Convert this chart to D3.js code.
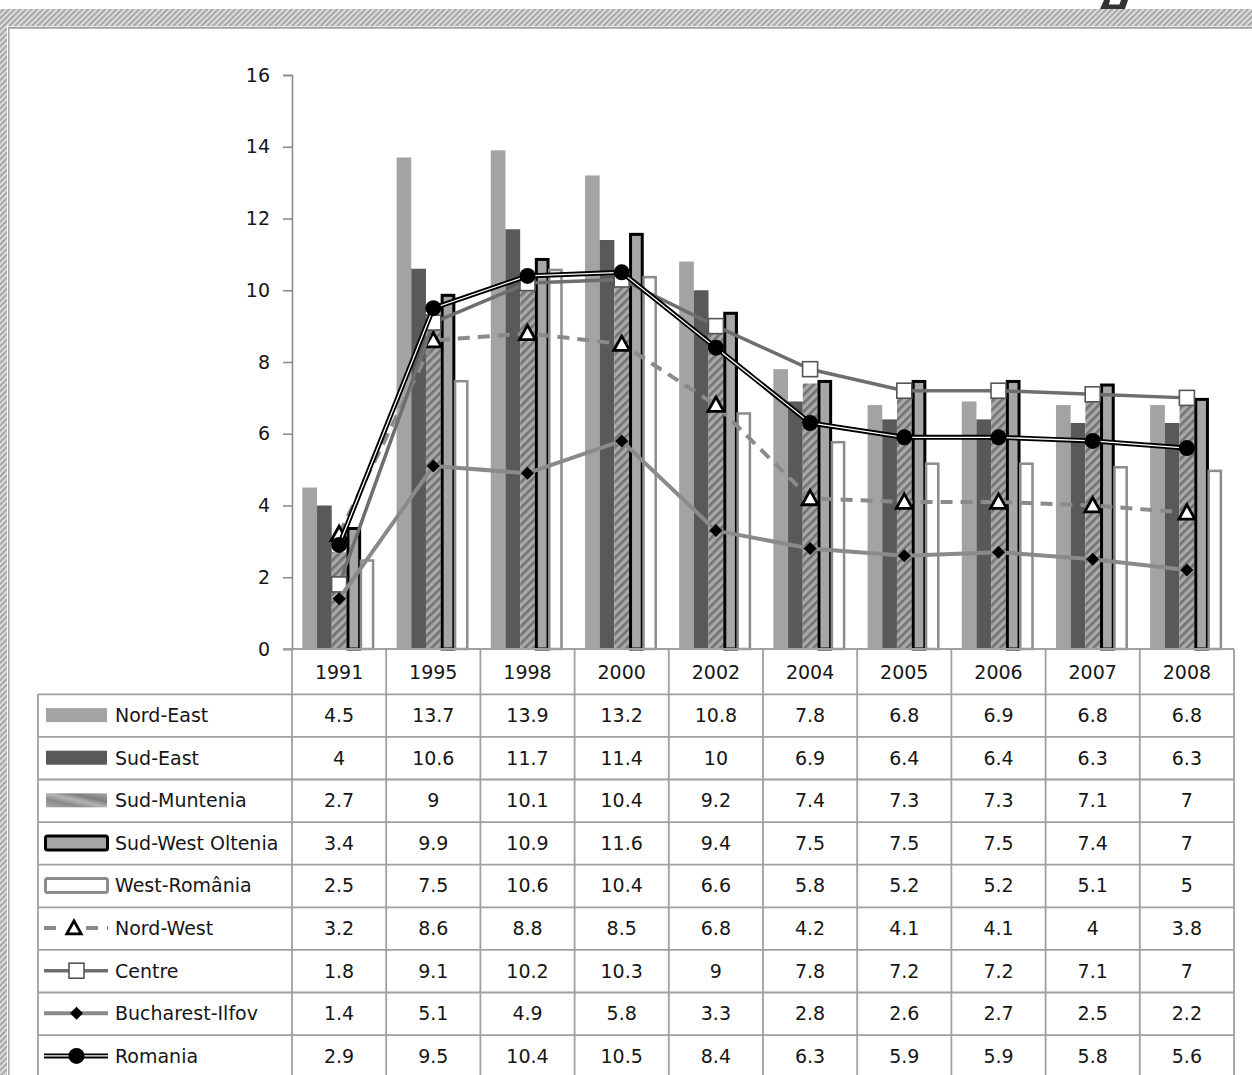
<!DOCTYPE html>
<html><head><meta charset="utf-8">
<script src="https://cdn.jsdelivr.net/npm/d3@7"></script>
<style>
html,body{margin:0;padding:0;background:#fff;}
svg{display:block;}
text{font-family:"DejaVu Sans",sans-serif;fill:#161616;}
</style></head>
<body>
<script>
const years = ["1991","1995","1998","2000","2002","2004","2005","2006","2007","2008"];
const yTicks = [0,2,4,6,8,10,12,14,16];

const nordEast      = [4.5,13.7,13.9,13.2,10.8,7.8,6.8,6.9,6.8,6.8];
const sudEast       = [4,10.6,11.7,11.4,10,6.9,6.4,6.4,6.3,6.3];
const sudMuntenia   = [2.7,9,10.1,10.4,9.2,7.4,7.3,7.3,7.1,7];
const sudWestOltenia= [3.4,9.9,10.9,11.6,9.4,7.5,7.5,7.5,7.4,7];
const westRomania   = [2.5,7.5,10.6,10.4,6.6,5.8,5.2,5.2,5.1,5];
const nordWest      = [3.2,8.6,8.8,8.5,6.8,4.2,4.1,4.1,4,3.8];
const centre        = [1.8,9.1,10.2,10.3,9,7.8,7.2,7.2,7.1,7];
const bucharestIlfov= [1.4,5.1,4.9,5.8,3.3,2.8,2.6,2.7,2.5,2.2];
const romania       = [2.9,9.5,10.4,10.5,8.4,6.3,5.9,5.9,5.8,5.6];

const barNames = ["Nord-East","Sud-East","Sud-Muntenia","Sud-West Oltenia","West-România"];
const barValues = [nordEast,sudEast,sudMuntenia,sudWestOltenia,westRomania];
const lineNames = ["Nord-West","Centre","Bucharest-Ilfov","Romania"];
const lineValues = [nordWest,centre,bucharestIlfov,romania];

const W=1252,H=1075;
const svg=d3.select("body").append("svg").attr("width",W).attr("height",H);
const defs=svg.append("defs");

const fp=defs.append("pattern").attr("id","frameHatch").attr("patternUnits","userSpaceOnUse")
  .attr("width",4).attr("height",4).attr("patternTransform","rotate(45)");
fp.append("rect").attr("width",4).attr("height",4).attr("fill","#dcdcdc");
fp.append("rect").attr("width",1.8).attr("height",4).attr("fill","#a2a2a2");

const bp=defs.append("pattern").attr("id","barHatch").attr("patternUnits","userSpaceOnUse")
  .attr("width",6).attr("height",6).attr("patternTransform","rotate(45)");
bp.append("rect").attr("width",6).attr("height",6).attr("fill","#a9a9a9");
bp.append("rect").attr("width",2.6).attr("height",6).attr("fill","#737373");

const lg=defs.append("linearGradient").attr("id","legHatch").attr("x1","0").attr("x2","1").attr("y1","1").attr("y2","0");
[["0%","#a8a8a8"],["30%","#8a8a8a"],["50%","#b4b4b4"],["70%","#7e7e7e"],["100%","#a8a8a8"]].forEach(s=>lg.append("stop").attr("offset",s[0]).attr("stop-color",s[1]));

svg.append("rect").attr("x",0).attr("y",9).attr("width",W).attr("height",17).attr("fill","url(#frameHatch)");
svg.append("rect").attr("x",0).attr("y",9).attr("width",7).attr("height",H-9).attr("fill","url(#frameHatch)");
svg.append("line").attr("x1",8.5).attr("x2",W).attr("y1",27.8).attr("y2",27.8).attr("stroke","#a0a0a0").attr("stroke-width",2);
svg.append("line").attr("x1",8.8).attr("x2",8.8).attr("y1",27).attr("y2",H).attr("stroke","#a8a8a8").attr("stroke-width",1.6);
svg.append("path").attr("d","M1104,0 L1128,0 L1125,9 L1100,9 Z M1110,0 L1121,0 L1119.5,4.5 L1109,4.5 Z")
  .attr("fill","#333").attr("fill-rule","evenodd");

const x=d3.scaleBand().domain(years).range([292,1234]).padding(0);
const bw=x.bandwidth();
const xb=d3.scaleBand().domain(barNames).range([bw*0.11,bw*0.89]).padding(0);
const y=d3.scaleLinear().domain([0,16]).range([649,75]);

const yAxis=svg.append("g").attr("transform","translate(292,0)")
  .call(d3.axisLeft(y).tickValues(yTicks).tickSize(9).tickPadding(13).tickFormat(d3.format("d")));
yAxis.select(".domain").attr("stroke","#8c8c8c").attr("stroke-width",1.6);
yAxis.selectAll(".tick line").attr("stroke","#8c8c8c").attr("stroke-width",1.6);
yAxis.selectAll(".tick text").attr("font-size",19).attr("fill","#161616").attr("font-family","DejaVu Sans");

const barStyles=[
  {fill:"#a3a3a3",stroke:"none",sw:0},
  {fill:"#595959",stroke:"none",sw:0},
  {fill:"url(#barHatch)",stroke:"none",sw:0},
  {fill:"#a6a6a6",stroke:"#000",sw:3},
  {fill:"#ffffff",stroke:"#8c8c8c",sw:2.5}
];
barValues.forEach((vals,si)=>{
  const st=barStyles[si];
  const shift = si===4 ? -1.5 : 0;
  svg.append("g").selectAll("rect").data(vals).join("rect")
    .attr("x",(d,i)=>x(years[i])+xb(barNames[si])+st.sw/2+shift)
    .attr("y",d=>y(d)+st.sw/2)
    .attr("width",xb.bandwidth()-st.sw)
    .attr("height",d=>y(0)-y(d)-st.sw/2)
    .attr("fill",st.fill).attr("stroke",st.stroke).attr("stroke-width",st.sw);
});

const lineStyles=[
  {color:"#8a8a8a",w:4,dash:"12,8",marker:"tri"},
  {color:"#6e6e6e",w:3.5,dash:null,marker:"sq"},
  {color:"#8a8a8a",w:4,dash:null,marker:"dia"},
  {color:"#000",w:5,dash:null,marker:"circ",double:true}
];
const cx=(i)=>x(years[i])+bw/2;
function drawMarker(g,type,px,py,scale){
  scale=scale||1;
  if(type==="tri"){
    const s=8*scale;
    g.append("path").attr("d",`M${px},${py-s} L${px+s},${py+s*0.8} L${px-s},${py+s*0.8} Z`)
      .attr("fill","#fff").attr("stroke","#000").attr("stroke-width",2.8).attr("stroke-linejoin","miter");
  } else if(type==="sq"){
    const s=7.5*scale;
    g.append("rect").attr("x",px-s).attr("y",py-s).attr("width",2*s).attr("height",2*s)
      .attr("fill","#fff").attr("stroke","#555").attr("stroke-width",1.6);
  } else if(type==="dia"){
    const s=6.5*scale;
    g.append("path").attr("d",`M${px},${py-s} L${px+s},${py} L${px},${py+s} L${px-s},${py} Z`).attr("fill","#000");
  } else {
    g.append("circle").attr("cx",px).attr("cy",py).attr("r",8*scale).attr("fill","#000");
  }
}
lineValues.forEach((vals,si)=>{
  const st=lineStyles[si];
  const g=svg.append("g");
  const line=d3.line().x((d,i)=>cx(i)).y(d=>y(d));
  const p=g.append("path").datum(vals).attr("d",line).attr("fill","none")
    .attr("stroke",st.color).attr("stroke-width",st.w).attr("stroke-linejoin","round");
  if(st.dash) p.attr("stroke-dasharray",st.dash);
  if(st.double){
    g.append("path").datum(vals).attr("d",line).attr("fill","none").attr("stroke","#fff").attr("stroke-width",1.3);
  }
  vals.forEach((d,i)=>drawMarker(g,st.marker,cx(i),y(d)));
});

const rowTop=694.3, rowH=42.6;
const allNames=barNames.concat(lineNames);
const allValues=barValues.concat(lineValues);
const tg=svg.append("g");
const tcol="#a0a0a0";
tg.append("line").attr("x1",283).attr("x2",1234).attr("y1",649).attr("y2",649).attr("stroke",tcol).attr("stroke-width",1.8);
for(let k=0;k<=allNames.length;k++){
  const yy=rowTop+k*rowH;
  if(yy<H) tg.append("line").attr("x1",38).attr("x2",1234).attr("y1",yy).attr("y2",yy).attr("stroke",tcol).attr("stroke-width",1.8);
}
tg.append("line").attr("x1",38).attr("x2",38).attr("y1",rowTop).attr("y2",H).attr("stroke",tcol).attr("stroke-width",1.8);
years.forEach((yr,i)=>{
  tg.append("line").attr("x1",x(yr)).attr("x2",x(yr)).attr("y1",649).attr("y2",H).attr("stroke",tcol).attr("stroke-width",1.8);
});
tg.append("line").attr("x1",1234).attr("x2",1234).attr("y1",649).attr("y2",H).attr("stroke",tcol).attr("stroke-width",1.8);

tg.selectAll("text.yr").data(years).join("text").attr("class","yr")
  .attr("x",d=>x(d)+bw/2).attr("y",672).attr("dy","0.36em").attr("text-anchor","middle").attr("font-size",19).text(d=>d);

allNames.forEach((nm,r)=>{
  const cy=rowTop+rowH*(r+0.5)-0.5;
  tg.selectAll(null).data(allValues[r]).join("text")
    .attr("x",(d,i)=>cx(i)).attr("y",cy).attr("dy","0.36em").attr("text-anchor","middle").attr("font-size",19)
    .text(d=>String(d));
  tg.append("text").attr("x",115).attr("y",cy).attr("dy","0.36em").attr("font-size",19).text(nm);
  const lgS=tg.append("g");
  if(r<5){
    const st=barStyles[r];
    if(r<3){
      lgS.append("rect").attr("x",46).attr("y",cy-7).attr("width",61).attr("height",14)
        .attr("fill",r===2?"url(#legHatch)":st.fill);
    } else {
      lgS.append("rect").attr("x",45.5).attr("y",cy-7).attr("width",62).attr("height",14).attr("rx",2)
        .attr("fill",st.fill).attr("stroke",st.stroke).attr("stroke-width",3);
    }
  } else {
    const li=r-5, st=lineStyles[li];
    const l=lgS.append("line").attr("x1",44).attr("x2",108).attr("y1",cy).attr("y2",cy)
      .attr("stroke",st.color).attr("stroke-width",st.w);
    if(st.dash) l.attr("stroke-dasharray","12,9");
    if(st.double) lgS.append("line").attr("x1",44).attr("x2",108).attr("y1",cy).attr("y2",cy).attr("stroke","#fff").attr("stroke-width",1.3);
    if(st.dash){
      lgS.append("rect").attr("x",60).attr("y",cy-9).attr("width",26).attr("height",18).attr("fill","#fff");
    }
    drawMarker(lgS,st.marker,li===0?74:76.5,cy,li===0?0.9:1);
  }
});
</script>
</body></html>
